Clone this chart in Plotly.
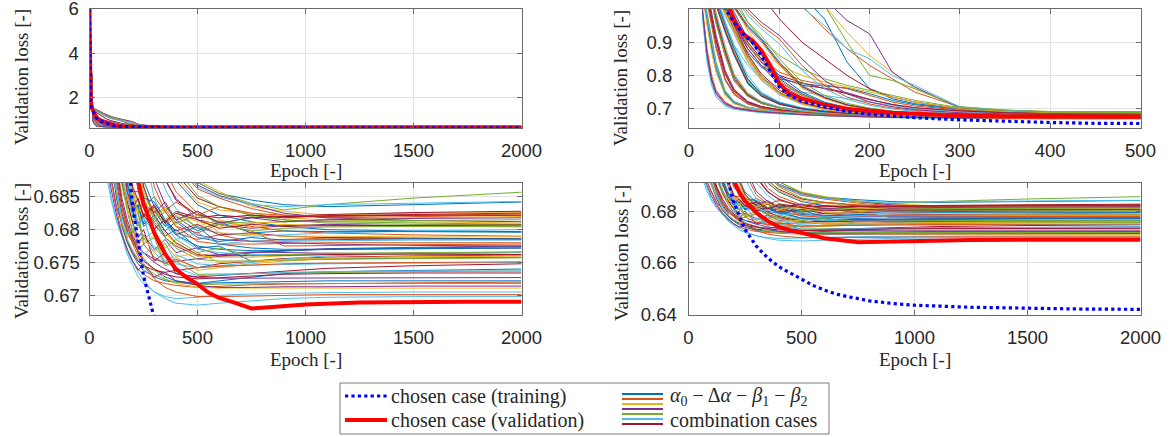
import plotly.graph_objects as go

W, H = 1174, 437

# ---------------- data ----------------
epochs_cases = [0, 15, 20, 25, 30, 40, 50, 65, 80, 100, 125, 150, 175, 200, 225, 250,
                300, 350, 400, 500, 600, 750, 900, 1100, 1500, 2000]

case_01 = [6, 1.50, 1.48, 1.46, 1.44, 1.40, 1.35, 1.28, 1.20, 1.10, 1.04, 0.97, 0.84, 0.76, 0.73, 0.715, 0.700, 0.694, 0.6905, 0.6872, 0.6855, 0.6845, 0.6838, 0.6835, 0.6838, 0.6842]
case_02 = [6, 1.50, 1.48, 1.45, 1.42, 1.37, 1.31, 1.22, 1.15, 1.08, 1.01, 0.94, 0.88, 0.83, 0.79, 0.75, 0.705, 0.695, 0.690, 0.6862, 0.6848, 0.6832, 0.6822, 0.6818, 0.6820, 0.6822]
case_03 = [6, 1.52, 1.50, 1.47, 1.45, 1.42, 1.36, 1.28, 1.21, 1.14, 1.07, 1.01, 0.93, 0.86, 0.81, 0.76, 0.705, 0.6955, 0.6915, 0.6875, 0.6858, 0.6835, 0.6828, 0.6822, 0.6825, 0.6826]
case_04 = [6, 1.55, 1.52, 1.50, 1.48, 1.45, 1.39, 1.30, 1.23, 1.16, 1.09, 1.03, 0.965, 0.925, 0.81, 0.765, 0.702, 0.694, 0.6905, 0.6868, 0.6852, 0.6838, 0.6825, 0.6818, 0.6814, 0.6812]
case_05 = [6, 1.52, 1.50, 1.47, 1.44, 1.41, 1.35, 1.27, 1.20, 1.13, 1.06, 1.01, 0.90, 0.80, 0.785, 0.76, 0.706, 0.696, 0.6915, 0.6872, 0.6855, 0.6840, 0.6830, 0.6838, 0.6848, 0.6857]
case_06 = [6, 1.48, 1.45, 1.42, 1.39, 1.35, 1.28, 1.20, 1.13, 1.06, 1.005, 0.95, 0.88, 0.85, 0.80, 0.77, 0.705, 0.695, 0.6905, 0.6865, 0.6850, 0.6838, 0.6835, 0.6838, 0.6840, 0.6843]
case_07 = [6, 1.45, 1.41, 1.38, 1.34, 1.29, 1.21, 1.12, 1.04, 0.97, 0.90, 0.85, 0.80, 0.76, 0.735, 0.72, 0.700, 0.692, 0.6885, 0.6848, 0.6835, 0.6822, 0.6820, 0.6823, 0.6826, 0.6828]
case_08 = [6, 1.35, 1.25, 1.17, 1.10, 1.01, 0.93, 0.87, 0.825, 0.79, 0.775, 0.768, 0.762, 0.745, 0.725, 0.712, 0.698, 0.691, 0.6875, 0.6838, 0.6822, 0.6812, 0.6805, 0.6800, 0.6798, 0.6797]
case_09 = [6, 1.38, 1.29, 1.21, 1.14, 1.05, 0.97, 0.90, 0.85, 0.81, 0.785, 0.772, 0.76, 0.74, 0.72, 0.708, 0.696, 0.689, 0.6858, 0.6825, 0.6812, 0.6805, 0.6798, 0.6795, 0.6792, 0.6790]
case_10 = [6, 1.40, 1.33, 1.26, 1.19, 1.10, 1.01, 0.935, 0.88, 0.83, 0.80, 0.78, 0.765, 0.752, 0.735, 0.72, 0.700, 0.692, 0.6880, 0.6842, 0.6830, 0.6825, 0.6818, 0.6815, 0.6812, 0.6810]
case_11 = [6, 1.36, 1.26, 1.18, 1.11, 1.02, 0.95, 0.88, 0.83, 0.795, 0.77, 0.762, 0.748, 0.728, 0.712, 0.702, 0.693, 0.6875, 0.6848, 0.6815, 0.6808, 0.6802, 0.6806, 0.6808, 0.6806, 0.6805]
case_12 = [6, 1.42, 1.35, 1.28, 1.22, 1.13, 1.04, 0.96, 0.91, 0.86, 0.82, 0.79, 0.77, 0.755, 0.74, 0.725, 0.703, 0.694, 0.6895, 0.6852, 0.6835, 0.6822, 0.6815, 0.6812, 0.6810, 0.6808]
case_13 = [6, 1.33, 1.22, 1.12, 1.05, 0.96, 0.89, 0.83, 0.79, 0.765, 0.75, 0.74, 0.73, 0.718, 0.708, 0.700, 0.691, 0.6862, 0.6832, 0.6802, 0.6795, 0.6790, 0.6792, 0.6795, 0.6798, 0.6800]
case_14 = [6, 1.37, 1.28, 1.19, 1.12, 1.03, 0.955, 0.89, 0.84, 0.80, 0.778, 0.76, 0.745, 0.727, 0.713, 0.703, 0.6935, 0.6878, 0.6845, 0.6822, 0.6818, 0.6822, 0.6818, 0.6821, 0.6823, 0.6825]
case_15 = [6, 1.05, 0.96, 0.88, 0.815, 0.742, 0.716, 0.702, 0.696, 0.6905, 0.6858, 0.682, 0.6795, 0.678, 0.6768, 0.6755, 0.674, 0.6728, 0.6722, 0.6718, 0.6722, 0.6728, 0.6733, 0.6736, 0.6738, 0.6740]
case_16 = [6, 1.17, 1.10, 1.03, 0.97, 0.87, 0.79, 0.74, 0.718, 0.703, 0.6935, 0.6878, 0.6842, 0.6835, 0.681, 0.6825, 0.680, 0.6815, 0.6795, 0.6785, 0.6792, 0.6782, 0.6785, 0.6787, 0.6786, 0.6785]
case_17 = [6, 1.12, 1.04, 0.97, 0.90, 0.80, 0.75, 0.718, 0.705, 0.6965, 0.6895, 0.6855, 0.685, 0.682, 0.6838, 0.6815, 0.683, 0.6808, 0.6822, 0.6805, 0.6815, 0.6803, 0.6808, 0.6806, 0.6805, 0.6804]
case_18 = [6, 0.99, 0.87, 0.79, 0.75, 0.717, 0.704, 0.697, 0.692, 0.688, 0.6835, 0.681, 0.6788, 0.6802, 0.6778, 0.6792, 0.677, 0.6785, 0.6765, 0.6772, 0.6762, 0.6766, 0.6765, 0.6764, 0.6763, 0.6762]
case_19 = [6, 1.21, 1.14, 1.08, 1.02, 0.94, 0.87, 0.78, 0.74, 0.715, 0.700, 0.6918, 0.6868, 0.6848, 0.6825, 0.684, 0.6818, 0.6832, 0.681, 0.6822, 0.6812, 0.6810, 0.6812, 0.6813, 0.6814, 0.6815]
case_20 = [6, 0.97, 0.84, 0.77, 0.735, 0.708, 0.698, 0.692, 0.688, 0.6845, 0.6812, 0.679, 0.6765, 0.675, 0.6735, 0.6722, 0.6705, 0.6695, 0.6688, 0.6685, 0.6688, 0.6692, 0.6695, 0.6697, 0.6698, 0.6698]
case_21 = [6, 1.07, 0.98, 0.90, 0.83, 0.75, 0.72, 0.704, 0.697, 0.691, 0.6852, 0.6808, 0.6782, 0.6765, 0.6752, 0.6745, 0.6738, 0.6735, 0.6738, 0.6742, 0.6748, 0.6752, 0.6756, 0.6758, 0.6760, 0.6761]
case_22 = [6, 1.22, 1.15, 1.09, 1.03, 0.95, 0.88, 0.79, 0.745, 0.718, 0.7015, 0.6925, 0.6872, 0.6838, 0.6835, 0.681, 0.6828, 0.6805, 0.682, 0.6798, 0.6812, 0.6795, 0.6798, 0.6797, 0.6797, 0.6796]
case_23 = [6, 1.00, 0.88, 0.80, 0.755, 0.72, 0.705, 0.697, 0.692, 0.6875, 0.683, 0.6795, 0.677, 0.6752, 0.674, 0.6732, 0.6722, 0.6718, 0.6715, 0.6712, 0.6714, 0.6716, 0.6717, 0.6718, 0.6719, 0.6720]
case_24 = [6, 1.25, 1.18, 1.12, 1.07, 0.99, 0.935, 0.85, 0.79, 0.745, 0.715, 0.699, 0.6905, 0.686, 0.6842, 0.6818, 0.6832, 0.681, 0.6825, 0.6812, 0.6805, 0.6810, 0.6812, 0.6815, 0.6818, 0.6820]
case_25 = [6, 1.11, 1.03, 0.96, 0.89, 0.79, 0.745, 0.715, 0.703, 0.694, 0.6872, 0.6825, 0.6798, 0.6785, 0.6772, 0.6765, 0.6755, 0.6750, 0.6752, 0.6755, 0.6760, 0.6765, 0.6768, 0.6770, 0.6771, 0.6772]
case_26 = [6, 1.26, 1.19, 1.13, 1.08, 1.00, 0.945, 0.86, 0.80, 0.75, 0.718, 0.7005, 0.6915, 0.6862, 0.6825, 0.6842, 0.682, 0.6835, 0.6815, 0.6828, 0.6808, 0.6820, 0.6815, 0.6810, 0.6808, 0.6808]
case_27 = [6, 0.98, 0.85, 0.775, 0.74, 0.712, 0.701, 0.694, 0.6895, 0.685, 0.6815, 0.679, 0.6762, 0.6745, 0.6728, 0.6718, 0.6705, 0.6698, 0.6695, 0.6697, 0.6700, 0.6702, 0.6703, 0.6704, 0.6705, 0.6705]
case_28 = [6, 1.16, 1.09, 1.02, 0.96, 0.86, 0.785, 0.738, 0.716, 0.702, 0.693, 0.6872, 0.6835, 0.6828, 0.6805, 0.6822, 0.6802, 0.6815, 0.6798, 0.6808, 0.6792, 0.6795, 0.6790, 0.6788, 0.6787, 0.6786]
case_29 = [6, 1.20, 1.13, 1.07, 1.01, 0.93, 0.86, 0.775, 0.737, 0.713, 0.699, 0.6905, 0.6855, 0.6825, 0.6838, 0.6805, 0.6818, 0.679, 0.680, 0.6772, 0.6775, 0.6752, 0.6754, 0.6755, 0.6757, 0.6758]
case_30 = [6, 1.29, 1.22, 1.16, 1.11, 1.03, 0.97, 0.89, 0.84, 0.78, 0.74, 0.714, 0.699, 0.6905, 0.6862, 0.6835, 0.685, 0.6828, 0.6842, 0.6822, 0.6835, 0.6825, 0.6822, 0.6820, 0.6822, 0.6824]
case_31 = [6, 1.21, 1.145, 1.085, 1.025, 0.945, 0.875, 0.785, 0.742, 0.716, 0.7005, 0.6912, 0.6858, 0.6818, 0.6832, 0.678, 0.6792, 0.675, 0.6758, 0.6738, 0.6742, 0.6748, 0.6752, 0.6756, 0.6758, 0.6760]
case_32 = [6, 1.30, 1.23, 1.17, 1.12, 1.04, 0.98, 0.90, 0.85, 0.79, 0.745, 0.717, 0.701, 0.6915, 0.686, 0.6835, 0.6808, 0.6788, 0.6775, 0.6760, 0.6762, 0.6765, 0.6768, 0.6771, 0.6773, 0.6775]
case_33 = [6, 1.18, 1.11, 1.04, 0.98, 0.88, 0.80, 0.745, 0.72, 0.704, 0.694, 0.688, 0.684, 0.6812, 0.6825, 0.6778, 0.6788, 0.6745, 0.6752, 0.6732, 0.6732, 0.6733, 0.6734, 0.6735, 0.6736, 0.6737]
case_34 = [6, 1.24, 1.17, 1.11, 1.06, 0.98, 0.925, 0.84, 0.785, 0.742, 0.713, 0.6975, 0.6895, 0.6845, 0.681, 0.6818, 0.6768, 0.6780, 0.6748, 0.6742, 0.6745, 0.6750, 0.6755, 0.6760, 0.6764, 0.6766]
case_35 = [6, 1.17, 1.10, 1.035, 0.975, 0.875, 0.795, 0.742, 0.719, 0.7035, 0.6938, 0.6882, 0.6842, 0.681, 0.6788, 0.6800, 0.6752, 0.6765, 0.6733, 0.6728, 0.6730, 0.6733, 0.6737, 0.6741, 0.6745, 0.6748]
case_36 = [6, 1.32, 1.26, 1.20, 1.15, 1.07, 1.01, 0.95, 0.91, 0.84, 0.77, 0.735, 0.712, 0.700, 0.692, 0.6875, 0.6835, 0.681, 0.6792, 0.6775, 0.6770, 0.6768, 0.6768, 0.6770, 0.6772, 0.6774]
case_37 = [6, 1.35, 1.29, 1.24, 1.19, 1.11, 1.05, 0.99, 0.95, 0.91, 0.83, 0.77, 0.735, 0.714, 0.702, 0.695, 0.6865, 0.6828, 0.6805, 0.6782, 0.6778, 0.6778, 0.6779, 0.6780, 0.6780, 0.6780]
case_38 = [6, 1.31, 1.25, 1.19, 1.14, 1.06, 1.00, 0.94, 0.90, 0.83, 0.762, 0.73, 0.709, 0.698, 0.690, 0.6858, 0.6818, 0.6795, 0.6778, 0.6760, 0.6758, 0.6758, 0.6760, 0.6762, 0.6764, 0.6765]
case_39 = [6, 1.36, 1.30, 1.25, 1.20, 1.12, 1.06, 1.00, 0.96, 0.92, 0.85, 0.785, 0.745, 0.72, 0.706, 0.697, 0.6878, 0.6838, 0.6815, 0.6792, 0.6785, 0.6782, 0.6780, 0.6778, 0.6776, 0.6775]
case_40 = [6, 1.33, 1.27, 1.21, 1.16, 1.08, 1.02, 0.96, 0.92, 0.85, 0.78, 0.74, 0.716, 0.702, 0.6928, 0.6868, 0.6812, 0.6788, 0.6772, 0.6755, 0.6752, 0.6752, 0.6753, 0.6755, 0.6756, 0.6757]
case_41 = [6, 1.34, 1.28, 1.23, 1.18, 1.10, 1.04, 0.98, 0.94, 0.895, 0.815, 0.76, 0.728, 0.71, 0.699, 0.6925, 0.6848, 0.6812, 0.6792, 0.6770, 0.6765, 0.6762, 0.6762, 0.6763, 0.6764, 0.6765]
case_42 = [6, 1.32, 1.255, 1.195, 1.145, 1.065, 1.005, 0.945, 0.905, 0.835, 0.766, 0.733, 0.711, 0.699, 0.6915, 0.6865, 0.6822, 0.6798, 0.6780, 0.6762, 0.6760, 0.6760, 0.6761, 0.6762, 0.6763, 0.6762]
case_43 = [6, 1.06, 0.97, 0.89, 0.825, 0.748, 0.719, 0.703, 0.6965, 0.6905, 0.6848, 0.6805, 0.678, 0.6762, 0.6748, 0.6738, 0.6728, 0.6722, 0.6720, 0.6718, 0.6719, 0.6720, 0.6721, 0.6722, 0.6722, 0.6722]
case_44 = [6, 1.13, 1.05, 0.98, 0.91, 0.81, 0.755, 0.72, 0.706, 0.6955, 0.6882, 0.6832, 0.680, 0.6778, 0.676, 0.6745, 0.6725, 0.6712, 0.6705, 0.6698, 0.6698, 0.6699, 0.6700, 0.6701, 0.6701, 0.6701]
case_45 = [6, 1.19, 1.12, 1.05, 0.99, 0.89, 0.805, 0.748, 0.722, 0.705, 0.6948, 0.6885, 0.6835, 0.6798, 0.677, 0.6757, 0.6738, 0.6725, 0.6718, 0.6712, 0.6711, 0.6711, 0.6711, 0.6711, 0.6711, 0.6711]
case_46 = [6, 1.14, 1.06, 0.99, 0.92, 0.815, 0.758, 0.722, 0.707, 0.697, 0.6895, 0.6848, 0.6815, 0.679, 0.6775, 0.6765, 0.6750, 0.6740, 0.6733, 0.6727, 0.6726, 0.6726, 0.6727, 0.6727, 0.6727, 0.6727]
case_47 = [6, 1.08, 0.99, 0.91, 0.84, 0.755, 0.722, 0.705, 0.698, 0.6915, 0.6858, 0.681, 0.6785, 0.6768, 0.6755, 0.6745, 0.6732, 0.6724, 0.6720, 0.6716, 0.6717, 0.6718, 0.6718, 0.6718, 0.6718, 0.6718]
case_48 = [6, 1.23, 1.16, 1.10, 1.04, 0.96, 0.89, 0.80, 0.75, 0.72, 0.703, 0.6935, 0.6878, 0.684, 0.681, 0.6788, 0.6765, 0.6750, 0.6742, 0.6730, 0.6731, 0.6733, 0.6735, 0.6736, 0.6737, 0.6737]
case_49 = [6, 1.12, 1.04, 0.975, 0.905, 0.805, 0.752, 0.719, 0.7055, 0.6965, 0.689, 0.684, 0.6808, 0.6785, 0.6765, 0.6752, 0.6740, 0.6732, 0.6728, 0.6725, 0.6727, 0.6730, 0.6732, 0.6733, 0.6734, 0.6734]
case_50 = [6, 1.22, 1.15, 1.085, 1.03, 0.95, 0.88, 0.788, 0.744, 0.717, 0.701, 0.6922, 0.6868, 0.6832, 0.6835, 0.6808, 0.6822, 0.6798, 0.6812, 0.6788, 0.6782, 0.6788, 0.6784, 0.6785, 0.6786, 0.6786]
case_51 = [6, 1.25, 1.185, 1.125, 1.075, 0.995, 0.94, 0.855, 0.795, 0.748, 0.716, 0.6985, 0.690, 0.6858, 0.6858, 0.6832, 0.6812, 0.6828, 0.6805, 0.6795, 0.6808, 0.6798, 0.6775, 0.6776, 0.6777, 0.6778]
case_52 = [6, 1.04, 0.95, 0.87, 0.81, 0.74, 0.715, 0.7015, 0.6955, 0.6905, 0.6858, 0.681, 0.6788, 0.6802, 0.6775, 0.6788, 0.6765, 0.6778, 0.6758, 0.6765, 0.6750, 0.6752, 0.6755, 0.6757, 0.6759, 0.6760]
case_53 = [6, 1.28, 1.21, 1.15, 1.10, 1.02, 0.96, 0.88, 0.83, 0.772, 0.735, 0.711, 0.697, 0.6895, 0.6868, 0.684, 0.6825, 0.6842, 0.6815, 0.6828, 0.6810, 0.6818, 0.6812, 0.6815, 0.6817, 0.6818]
case_54 = [6, 1.16, 1.09, 1.02, 0.955, 0.86, 0.783, 0.737, 0.716, 0.7015, 0.6925, 0.6868, 0.6828, 0.6795, 0.6812, 0.6785, 0.6798, 0.6772, 0.6785, 0.6765, 0.6772, 0.6760, 0.6762, 0.6764, 0.6765, 0.6766]
case_55 = [6, 1.07, 0.98, 0.90, 0.83, 0.752, 0.721, 0.704, 0.6975, 0.692, 0.6862, 0.6818, 0.6792, 0.6808, 0.6782, 0.6762, 0.6775, 0.6752, 0.6762, 0.6748, 0.6745, 0.6746, 0.6747, 0.6748, 0.6749, 0.6750]
case_56 = [6, 1.27, 1.20, 1.14, 1.09, 1.01, 0.95, 0.865, 0.805, 0.755, 0.72, 0.7015, 0.692, 0.6865, 0.6845, 0.682, 0.6835, 0.6812, 0.6828, 0.6818, 0.6822, 0.6818, 0.6820, 0.6821, 0.6822, 0.6822]
case_57 = [6, 1.31, 1.24, 1.18, 1.13, 1.05, 0.99, 0.91, 0.86, 0.80, 0.75, 0.72, 0.703, 0.693, 0.6875, 0.6848, 0.6842, 0.6815, 0.6792, 0.6805, 0.6778, 0.6772, 0.6770, 0.6770, 0.6771, 0.6772]
case_58 = [6, 1.10, 1.02, 0.95, 0.88, 0.785, 0.742, 0.714, 0.702, 0.6935, 0.6878, 0.6835, 0.6805, 0.6782, 0.6768, 0.6778, 0.6758, 0.6748, 0.6755, 0.6742, 0.6744, 0.6746, 0.6748, 0.6749, 0.6750, 0.6751]
case_59 = [6, 1.24, 1.175, 1.115, 1.065, 0.985, 0.93, 0.845, 0.788, 0.744, 0.714, 0.698, 0.6898, 0.6852, 0.6825, 0.6845, 0.6818, 0.6832, 0.6808, 0.6822, 0.6795, 0.6792, 0.6790, 0.6790, 0.6789, 0.6789]
case_60 = [6, 0.99, 0.86, 0.785, 0.745, 0.714, 0.702, 0.695, 0.6905, 0.6862, 0.6822, 0.6792, 0.677, 0.6752, 0.6738, 0.6748, 0.6728, 0.6735, 0.6722, 0.6715, 0.6712, 0.6712, 0.6713, 0.6713, 0.6714, 0.6714]
case_61 = [6, 1.29, 1.225, 1.165, 1.115, 1.035, 0.975, 0.895, 0.845, 0.785, 0.742, 0.7155, 0.70, 0.691, 0.6862, 0.6852, 0.683, 0.6815, 0.6828, 0.6802, 0.6808, 0.6798, 0.6802, 0.6804, 0.6805, 0.6805]
case_62 = [6, 1.18, 1.11, 1.045, 0.985, 0.885, 0.80, 0.746, 0.721, 0.705, 0.6945, 0.6882, 0.6848, 0.6822, 0.6805, 0.6818, 0.6795, 0.6808, 0.6785, 0.6795, 0.6778, 0.6783, 0.6782, 0.6783, 0.6784, 0.6784]
case_63 = [6, 1.20, 1.135, 1.075, 1.015, 0.935, 0.865, 0.778, 0.739, 0.714, 0.6995, 0.691, 0.6858, 0.6832, 0.6848, 0.6822, 0.6838, 0.6810, 0.6825, 0.6815, 0.6802, 0.6808, 0.6805, 0.6806, 0.6806, 0.6807]

chosen_epochs = [0, 5, 10, 20, 30, 40, 50, 60, 70, 80, 90, 100, 110, 125, 150, 175, 200, 225,
                 250, 300, 350, 400, 450, 500, 550, 600, 650, 700, 750, 800, 900, 1000, 1250,
                 1500, 1750, 2000]
chosen_training = [6.0, 1.75, 1.55, 1.30, 1.12, 1.00, 0.96, 0.925, 0.90, 0.86, 0.81, 0.765, 0.742,
                   0.722, 0.706, 0.692, 0.6835, 0.678, 0.673, 0.6665, 0.662, 0.6585, 0.656, 0.6535,
                   0.6513, 0.6495, 0.648, 0.647, 0.6461, 0.6453, 0.6443, 0.6436, 0.6428, 0.6423,
                   0.6421, 0.642]
chosen_validation = [6.0, 1.75, 1.55, 1.32, 1.15, 1.04, 0.965, 0.925, 0.905, 0.875, 0.83, 0.775,
                     0.748, 0.73, 0.712, 0.70, 0.692, 0.6875, 0.684, 0.6795, 0.6763, 0.674, 0.6727,
                     0.6717, 0.6704, 0.6696, 0.6691, 0.6686, 0.668, 0.6681, 0.6683, 0.6686, 0.6689,
                     0.669, 0.669, 0.669]

combo_cases = [case_01, case_02, case_03, case_04, case_05, case_06, case_07, case_08, case_09,
               case_10, case_11, case_12, case_13, case_14, case_15, case_16, case_17, case_18,
               case_19, case_20, case_21, case_22, case_23, case_24, case_25, case_26, case_27,
               case_28, case_29, case_30, case_31, case_32, case_33, case_34, case_35, case_36,
               case_37, case_38, case_39, case_40, case_41, case_42, case_43, case_44, case_45,
               case_46, case_47, case_48, case_49, case_50, case_51, case_52, case_53, case_54,
               case_55, case_56, case_57, case_58, case_59, case_60, case_61, case_62, case_63]

for _k, _c in enumerate(combo_cases):
    assert len(_c) == len(epochs_cases), (_k + 1, len(_c))
assert len(chosen_training) == len(chosen_epochs)
assert len(chosen_validation) == len(chosen_epochs)

matlab_colors = ["#0072BD", "#D95319", "#EDB120", "#7E2F8E", "#77AC30", "#4DBEEE", "#A2142F"]

# ---------------- layout helpers ----------------
def px_x(p):
    return p / W

def px_y(p):
    return 1 - p / H

panels = [
    dict(x=(89.5, 521.5), y=(9, 128), xr=[0, 2000], yr=[0.64, 6.0],
         xt=[0, 500, 1000, 1500, 2000], yt=[2, 4, 6], ytt=["2", "4", "6"], ysoff=6),
    dict(x=(689, 1140.5), y=(9, 128), xr=[0, 500], yr=[0.642, 0.9995],
         xt=[0, 100, 200, 300, 400, 500], yt=[0.7, 0.8, 0.9], ytt=["0.7", "0.8", "0.9"], ysoff=12),
    dict(x=(89.5, 521.5), y=(183, 315), xr=[0, 2000], yr=[0.667, 0.6871],
         xt=[0, 500, 1000, 1500, 2000], yt=[0.67, 0.675, 0.68, 0.685],
         ytt=["0.67", "0.675", "0.68", "0.685"], ysoff=5),
    dict(x=(688.5, 1140.5), y=(183, 315), xr=[0, 2000], yr=[0.6398, 0.691],
         xt=[0, 500, 1000, 1500, 2000], yt=[0.64, 0.66, 0.68], ytt=["0.64", "0.66", "0.68"], ysoff=7),
]

fig = go.Figure()
frame_col = "#6b6b6b"
grid_col = "#e2e2e2"
tick_font = dict(family="Liberation Sans", size=18.5, color="#262626")
serif = "Liberation Serif"

layout = {}
for i, p in enumerate(panels):
    n = "" if i == 0 else str(i + 1)
    xa, ya = "x" + n, "y" + n
    for k, vals in enumerate(combo_cases):
        fig.add_trace(go.Scatter(x=epochs_cases, y=vals, mode="lines",
                                 line=dict(color=matlab_colors[k % 7], width=1),
                                 xaxis=xa, yaxis=ya, showlegend=False, hoverinfo="skip"))
    fig.add_trace(go.Scatter(x=chosen_epochs, y=chosen_validation, mode="lines",
                             line=dict(color="#FF0000", width=4),
                             xaxis=xa, yaxis=ya, showlegend=False))
    fig.add_trace(go.Scatter(x=chosen_epochs, y=chosen_training, mode="lines",
                             line=dict(color="#0000FF", width=3.2, dash="dot"),
                             xaxis=xa, yaxis=ya, showlegend=False))
    layout["xaxis" + n] = dict(
        domain=[px_x(p["x"][0]), px_x(p["x"][1])], anchor=ya, range=p["xr"],
        tickvals=p["xt"], ticktext=[str(v) for v in p["xt"]],
        showline=True, mirror="ticks", linecolor=frame_col, linewidth=1,
        ticks="inside", ticklen=5, tickcolor=frame_col, showgrid=True, gridcolor=grid_col,
        gridwidth=1, zeroline=False, tickfont=tick_font, ticklabelstandoff=6,
        ticklabeloverflow="allow", automargin=False)
    layout["yaxis" + n] = dict(
        domain=[px_y(p["y"][1]), px_y(p["y"][0])], anchor=xa, range=p["yr"],
        tickvals=p["yt"], ticktext=p["ytt"],
        showline=True, mirror="ticks", linecolor=frame_col, linewidth=1,
        ticks="inside", ticklen=5, tickcolor=frame_col, showgrid=True, gridcolor=grid_col,
        gridwidth=1, zeroline=False, tickfont=tick_font, ticklabelstandoff=p["ysoff"],
        ticklabeloverflow="allow", automargin=False)

annotations = []
title_font = dict(family=serif, size=19, color="#262626")
for (cx, cy) in [(305.5, 170), (914.5, 170), (305.5, 359), (914.5, 359)]:
    annotations.append(dict(x=px_x(cx), y=px_y(cy), xref="paper", yref="paper",
                            text="Epoch [-]", showarrow=False, font=title_font,
                            xanchor="center", yanchor="middle"))
for (cx, cy) in [(21, 77), (621, 78), (21, 251), (621, 253)]:
    annotations.append(dict(x=px_x(cx), y=px_y(cy), xref="paper", yref="paper",
                            text="Validation loss [-]", showarrow=False, font=title_font,
                            textangle=-90, xanchor="center", yanchor="middle"))

# legend (drawn manually)
shapes = [dict(type="rect", xref="paper", yref="paper", x0=px_x(340), x1=px_x(829),
               y0=px_y(434), y1=px_y(383), line=dict(color="#7a7a7a", width=1),
               fillcolor="white", layer="above")]
shapes.append(dict(type="line", xref="paper", yref="paper", x0=px_x(345), x1=px_x(387),
                   y0=px_y(396), y1=px_y(396), line=dict(color="#0000FF", width=3.2, dash="dot")))
shapes.append(dict(type="line", xref="paper", yref="paper", x0=px_x(345), x1=px_x(387),
                   y0=px_y(420), y1=px_y(420), line=dict(color="#FF0000", width=4)))
for k, c in enumerate(matlab_colors):
    yy = 394 + k * 5
    shapes.append(dict(type="line", xref="paper", yref="paper", x0=px_x(622), x1=px_x(663),
                       y0=px_y(yy), y1=px_y(yy), line=dict(color=c, width=2)))
leg_font = dict(family=serif, size=20, color="#262626")
for (tx, ty, txt) in [(389, 396, "chosen case (training)"),
                      (389, 420, "chosen case (validation)"),
                      (668, 396, "<i>α</i><sub>0</sub> − Δ<i>α</i> − <i>β</i><sub>1</sub> − <i>β</i><sub>2</sub>"),
                      (668, 420, "combination cases")]:
    annotations.append(dict(x=px_x(tx), y=px_y(ty), xref="paper", yref="paper", text=txt,
                            showarrow=False, font=leg_font, xanchor="left", yanchor="middle"))

fig.update_layout(width=W, height=H, margin=dict(l=0, r=0, t=0, b=0, autoexpand=False),
                  autosize=False, paper_bgcolor="white", plot_bgcolor="white", showlegend=False,
                  annotations=annotations, shapes=shapes, **layout)

fig.write_html("out.html")
